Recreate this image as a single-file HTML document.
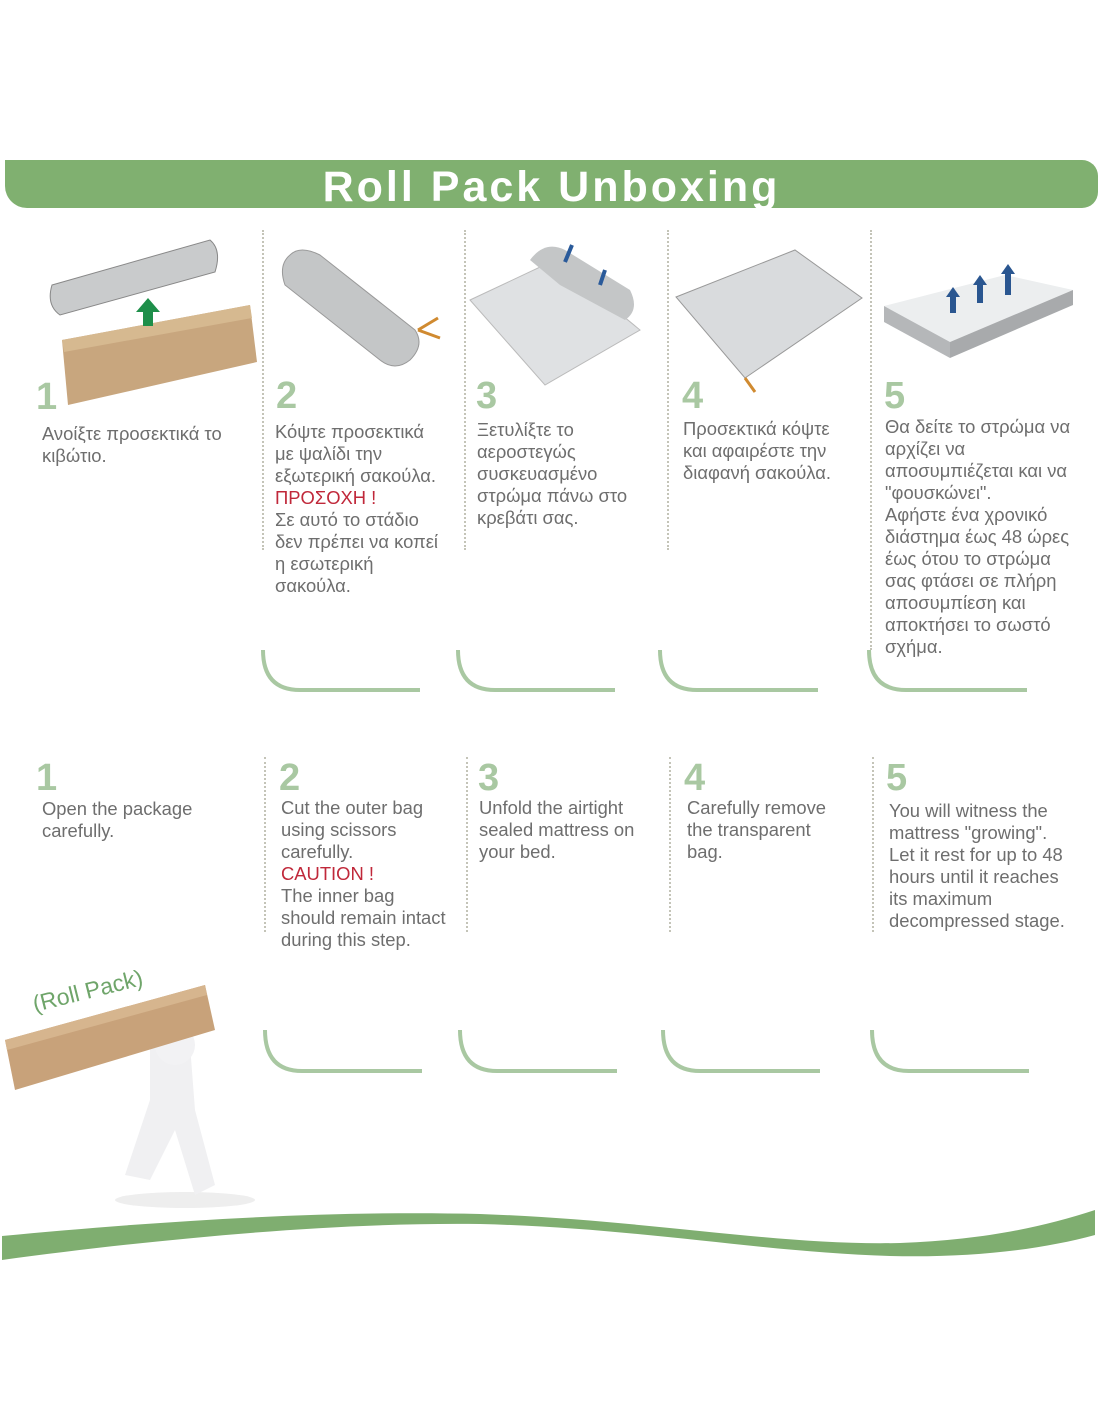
<!DOCTYPE html>
<html><head><meta charset="utf-8">
<style>
*{margin:0;padding:0;box-sizing:border-box}
body{width:1100px;height:1422px;background:#fff;position:relative;overflow:hidden;font-family:"Liberation Sans","DejaVu Sans",sans-serif;color:#707070}
.banner{position:absolute;left:5px;top:160px;width:1093px;height:48px;background:#80b070;border-radius:0 16px 16px 22px;overflow:hidden}
.banner h1{position:absolute;left:0;right:0;top:4px;text-align:center;color:#fff;font-size:43px;font-weight:bold;letter-spacing:3px;line-height:46px}
.num{position:absolute;font-size:38px;font-weight:bold;color:#a9c8a2;line-height:38px}
.t{position:absolute;font-size:18.4px;line-height:22px;color:#6e6e6e;white-space:nowrap}
.r{color:#c0283a}
.sep{position:absolute;width:0;border-left:2px dotted #c4c4b8}
svg{position:absolute;left:0;top:0}
</style></head><body>
<div class="banner"><h1>Roll Pack Unboxing</h1></div>

<svg width="1100" height="1422">
<g>
 <path d="M52 285 L210 240 Q222 250 215 272 L60 315 Q46 305 52 285Z" fill="#c9cbcc" stroke="#888" stroke-width="1"/>
 <path d="M62 340 L250 305 L257 362 L68 405Z" fill="#c8a67e"/>
 <path d="M62 340 L250 305 L252 318 L64 352Z" fill="#d6b990"/>
 <polygon points="148,298 136,312 143,312 143,326 153,326 153,312 160,312" fill="#1e8f4a"/>
 <path d="M290 255 Q300 245 320 255 L415 330 Q425 345 410 360 Q395 372 380 360 L285 285 Q278 265 290 255Z" fill="#c4c6c7" stroke="#999"/>
 <path d="M418 330 L438 318 M418 330 L440 338" stroke="#d08a30" stroke-width="3"/>
 <polygon points="470,300 555,260 640,330 545,385" fill="#dfe1e3" stroke="#bbb"/>
 <path d="M530 260 Q545 240 565 250 L630 290 Q640 310 625 320 L560 285Z" fill="#c4c6c7"/>
 <path d="M565 262 L572 245 M600 285 L605 270" stroke="#2a5a9a" stroke-width="4"/>
 <polygon points="676,297 795,250 862,298 745,378" fill="#d9dbdd" stroke="#999"/>
 <path d="M745 378 L755 392" stroke="#d08a30" stroke-width="3"/>
 <polygon points="884,306 1005,275 1073,290 950,342" fill="#eceeef"/>
 <polygon points="884,306 950,342 950,358 884,322" fill="#b5b7b9"/>
 <polygon points="950,342 1073,290 1073,305 950,358" fill="#a8aaac"/>
 <path d="M953 313 V295 M980 303 V283 M1008 295 V272" stroke="#2a5690" stroke-width="6"/>
 <polygon points="946,297 953,287 960,297" fill="#2a5690"/>
 <polygon points="973,285 980,275 987,285" fill="#2a5690"/>
 <polygon points="1001,274 1008,264 1015,274" fill="#2a5690"/>
</g>
<g fill="none" stroke="#a9c8a2" stroke-width="4">
 <path d="M263 650 Q263 690 300 690 L420 690"/>
 <path d="M458 650 Q458 690 495 690 L615 690"/>
 <path d="M660 650 Q660 690 697 690 L818 690"/>
 <path d="M869 650 Q869 690 906 690 L1027 690"/>
 <path d="M265 1030 Q265 1071 302 1071 L422 1071"/>
 <path d="M460 1030 Q460 1071 497 1071 L617 1071"/>
 <path d="M663 1030 Q663 1071 700 1071 L820 1071"/>
 <path d="M872 1030 Q872 1071 909 1071 L1029 1071"/>
</g>
<g>
 <ellipse cx="185" cy="1200" rx="70" ry="8" fill="#eee"/>
 <path d="M150 1040 Q170 1030 190 1045 L195 1110 L215 1185 L195 1195 L175 1130 L150 1180 L125 1175 L150 1100Z" fill="#f0f0f2"/>
 <circle cx="175" cy="1045" r="20" fill="#f2f2f4"/>
 <polygon points="5,1040 205,985 215,1030 15,1090" fill="#c8a27a"/>
 <polygon points="5,1040 205,985 207,995 7,1050" fill="#d6b58e"/>
</g>
<text x="35" y="1012" font-family="Liberation Sans" font-size="23" fill="#6fa56a" transform="rotate(-14 35 1012)">(Roll Pack)</text>
<path d="M2 1236 C150 1222 320 1210 480 1214 C650 1220 780 1246 900 1243 C980 1240 1040 1228 1095 1210 L1095 1235 C1040 1250 970 1258 890 1256 C760 1252 640 1228 480 1224 C330 1222 150 1240 2 1260Z" fill="#7fae70"/>
</svg>

<div class="sep" style="left:262px;top:230px;height:320px"></div>
<div class="sep" style="left:464px;top:230px;height:320px"></div>
<div class="sep" style="left:667px;top:230px;height:320px"></div>
<div class="sep" style="left:870px;top:230px;height:420px"></div>
<div class="sep" style="left:264px;top:757px;height:175px"></div>
<div class="sep" style="left:466px;top:757px;height:175px"></div>
<div class="sep" style="left:669px;top:757px;height:175px"></div>
<div class="sep" style="left:872px;top:757px;height:175px"></div>

<div class="num" style="left:36px;top:378px">1</div>
<div class="t" style="left:42px;top:423px">Ανοίξτε προσεκτικά το<br>κιβώτιο.</div>
<div class="num" style="left:276px;top:377px">2</div>
<div class="t" style="left:275px;top:421px">Κόψτε προσεκτικά<br>με ψαλίδι την<br>εξωτερική σακούλα.<br><span class="r">ΠΡΟΣΟΧΗ !</span><br>Σε αυτό το στάδιο<br>δεν πρέπει να κοπεί<br>η εσωτερική<br>σακούλα.</div>
<div class="num" style="left:476px;top:377px">3</div>
<div class="t" style="left:477px;top:419px">Ξετυλίξτε το<br>αεροστεγώς<br>συσκευασμένο<br>στρώμα πάνω στο<br>κρεβάτι σας.</div>
<div class="num" style="left:682px;top:377px">4</div>
<div class="t" style="left:683px;top:418px">Προσεκτικά κόψτε<br>και αφαιρέστε την<br>διαφανή σακούλα.</div>
<div class="num" style="left:884px;top:377px">5</div>
<div class="t" style="left:885px;top:416px">Θα δείτε το στρώμα να<br>αρχίζει να<br>αποσυμπιέζεται και να<br>"φουσκώνει".<br>Αφήστε ένα χρονικό<br>διάστημα έως 48 ώρες<br>έως ότου το στρώμα<br>σας φτάσει σε πλήρη<br>αποσυμπίεση και<br>αποκτήσει το σωστό<br>σχήμα.</div>

<div class="num" style="left:36px;top:759px">1</div>
<div class="t" style="left:42px;top:798px">Open the package<br>carefully.</div>
<div class="num" style="left:279px;top:759px">2</div>
<div class="t" style="left:281px;top:797px">Cut the outer bag<br>using scissors<br>carefully.<br><span class="r">CAUTION !</span><br>The inner bag<br>should remain intact<br>during this step.</div>
<div class="num" style="left:478px;top:759px">3</div>
<div class="t" style="left:479px;top:797px">Unfold the airtight<br>sealed mattress on<br>your bed.</div>
<div class="num" style="left:684px;top:759px">4</div>
<div class="t" style="left:687px;top:797px">Carefully remove<br>the transparent<br>bag.</div>
<div class="num" style="left:886px;top:759px">5</div>
<div class="t" style="left:889px;top:800px">You will witness the<br>mattress "growing".<br>Let it rest for up to 48<br>hours until it reaches<br>its maximum<br>decompressed stage.</div>
</body></html>
